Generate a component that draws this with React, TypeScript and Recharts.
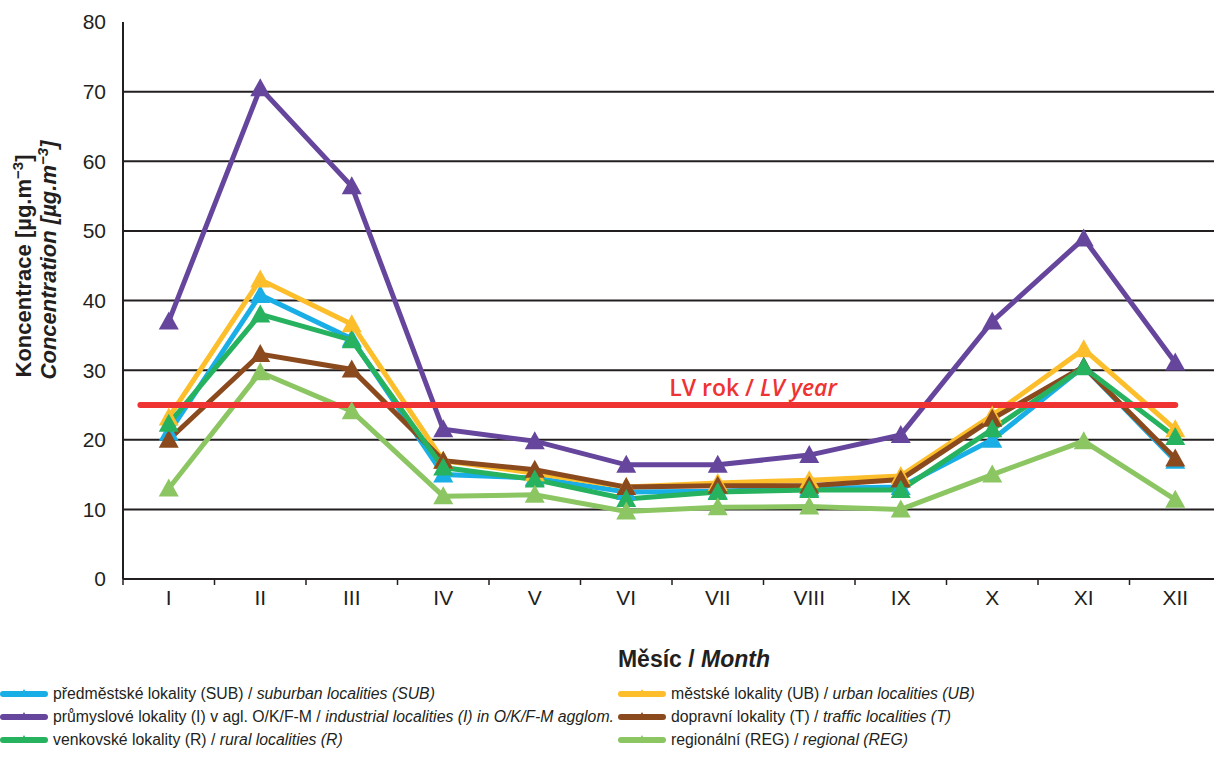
import { LineChart, Line, XAxis, YAxis, ReferenceLine } from "recharts";

const MONTHS = ["I", "II", "III", "IV", "V", "VI", "VII", "VIII", "IX", "X", "XI", "XII"];

const SUB = [21.0, 40.8, 34.5, 15.0, 14.5, 12.5, 12.6, 13.0, 13.2, 20.0, 30.5, 17.0];
const UB = [23.2, 43.0, 36.6, 17.0, 15.2, 13.2, 13.8, 14.2, 14.8, 23.5, 33.0, 21.5];
const IND = [37.0, 70.5, 56.4, 21.5, 19.8, 16.4, 16.4, 17.8, 20.7, 37.0, 48.9, 31.1];
const TRAF = [20.0, 32.3, 30.1, 17.0, 15.7, 13.2, 13.4, 13.4, 14.3, 23.0, 30.5, 17.3];
const RUR = [22.3, 38.0, 34.3, 16.0, 14.3, 11.5, 12.5, 12.8, 12.8, 21.5, 30.4, 20.4];
const REG = [13.0, 29.7, 24.1, 11.9, 12.1, 9.7, 10.3, 10.4, 10.0, 15.0, 19.8, 11.4];

const LV = 25;
const Y_TICKS = [0, 10, 20, 30, 40, 50, 60, 70, 80];
const GRID_VALUES = [10, 20, 30, 40, 50, 60, 70];
const X_TICKS = [0, 1, 2, 3, 4, 5, 6, 7, 8, 9, 10, 11, 12];

const SERIES = [
  { key: "sub", values: SUB, color: "#19AEE5", cz: "předměstské lokality (SUB)", en: "suburban localities (SUB)" },
  { key: "ub", values: UB, color: "#FDBE2C", cz: "městské lokality (UB)", en: "urban localities (UB)" },
  { key: "ind", values: IND, color: "#66469D", cz: "průmyslové lokality (I) v agl. O/K/F-M", en: "industrial localities (I) in O/K/F-M agglom." },
  { key: "traf", values: TRAF, color: "#8B4A1E", cz: "dopravní lokality (T)", en: "traffic localities (T)" },
  { key: "rur", values: RUR, color: "#27B25F", cz: "venkovské lokality (R)", en: "rural localities (R)" },
  { key: "reg", values: REG, color: "#8CC663", cz: "regionální (REG)", en: "regional (REG)" },
];

// left column: sub, ind, rur ; right column: ub, traf, reg
const LEGEND_LEFT = ["sub", "ind", "rur"];
const LEGEND_RIGHT = ["ub", "traf", "reg"];

const data = MONTHS.map((m, i) => {
  const row: Record<string, any> = { month: m, x: i + 0.5 };
  SERIES.forEach((s) => {
    row[s.key] = s.values[i];
  });
  return row;
});

const CHART_W = 1221;
const CHART_H = 758;
const PLOT_LEFT = 123;
const BW = (CHART_W - PLOT_LEFT) / 12;
const FONT = "'Liberation Sans', Arial, sans-serif";
const INK = "#231F20";

const Triangle = (color: string) => (props: any) => {
  const { cx, cy, index } = props;
  if (cx == null || cy == null) return null;
  return (
    <path
      key={`tri-${index}`}
      d={`M${cx},${cy - 10} L${cx + 10},${cy + 8} L${cx - 10},${cy + 8} Z`}
      fill={color}
    />
  );
};

const MonthTick = (props: any) => {
  const { x, y, payload } = props;
  const label = MONTHS[payload.value];
  if (!label) return null;
  return (
    <text x={x + BW / 2} y={y + 18} textAnchor="middle" fontFamily={FONT} fontSize={21} fill={INK}>
      {label}
    </text>
  );
};

const YTitle = () => (
  <g>
    <text transform="translate(31,266) rotate(-90)" textAnchor="middle" fontFamily={FONT} fontSize={22} fontWeight="bold" fill={INK}>
      Koncentrace [µg.m<tspan dy={-8} fontSize={15}>−3</tspan>
      <tspan dy={8}>]</tspan>
    </text>
    <text transform="translate(56,260) rotate(-90)" textAnchor="middle" fontFamily={FONT} fontSize={22} fontWeight="bold" fontStyle="italic" fill={INK}>
      Concentration [µg.m<tspan dy={-8} fontSize={15}>−3</tspan>
      <tspan dy={8}>]</tspan>
    </text>
  </g>
);

const XTitle = () => (
  <text x={694} y={667} textAnchor="middle" fontFamily={FONT} fontSize={23} fontWeight="bold" fill={INK}>
    Měsíc / <tspan fontStyle="italic">Month</tspan>
  </text>
);

const LvLabel = () => (
  <text x={753} y={396} textAnchor="middle" fontFamily="'Open Sans', sans-serif" fontSize={23} fontWeight={600} fill="#EE3332">
    LV rok / <tspan fontStyle="italic">LV year</tspan>
  </text>
);

const LegendItem = ({ s, left, top }: { s: (typeof SERIES)[number]; left: number; top: number }) => (
  <div style={{ position: "absolute", left, top, height: 20, display: "flex", alignItems: "center", whiteSpace: "nowrap" }}>
    <svg width={48} height={14} style={{ marginRight: 5 }}>
      <line x1={3} y1={7} x2={45} y2={7} stroke={s.color} strokeWidth={6} strokeLinecap="round" />
      <path d="M24,2 L28,9 L20,9 Z" fill={s.color} />
    </svg>
    <span style={{ fontFamily: FONT, fontSize: 15.8, color: INK }}>
      {s.cz} / <i>{s.en}</i>
    </span>
  </div>
);

export default function App() {
  const byKey = (k: string) => SERIES.find((s) => s.key === k)!;
  return (
    <div style={{ position: "absolute", left: 0, top: 0, width: 1214, height: 758, overflow: "hidden", background: "#fff" }}>
      <LineChart width={CHART_W} height={CHART_H} data={data} margin={{ top: 22, right: 0, bottom: 139, left: 0 }}>
        <XAxis
          dataKey="x"
          type="number"
          domain={[0, 12]}
          ticks={X_TICKS}
          interval={0}
          height={40}
          axisLine={{ stroke: INK, strokeWidth: 2 }}
          tickLine={{ stroke: INK, strokeWidth: 1.5 }}
          tickSize={6}
          tick={<MonthTick />}
        />
        <YAxis
          type="number"
          domain={[0, 80]}
          ticks={Y_TICKS}
          interval={0}
          width={PLOT_LEFT}
          axisLine={{ stroke: INK, strokeWidth: 2 }}
          tickLine={false}
          tickSize={0}
          tickMargin={17}
          tick={{ fontFamily: FONT, fontSize: 21, fill: INK }}
        />
        {GRID_VALUES.map((v) => (
          <ReferenceLine key={`g-${v}`} y={v} stroke={INK} strokeWidth={2} />
        ))}
        {SERIES.map((s) => (
          <Line
            key={s.key}
            dataKey={s.key}
            stroke={s.color}
            strokeWidth={5}
            dot={Triangle(s.color)}
            activeDot={false}
            isAnimationActive={false}
          />
        ))}
        <ReferenceLine
          segment={[
            { x: 0.19, y: LV },
            { x: 11.5, y: LV },
          ]}
          stroke="#EE3332"
          strokeWidth={6}
          strokeLinecap="round"
        />
      </LineChart>
      <svg width={1214} height={758} style={{ position: "absolute", left: 0, top: 0, pointerEvents: "none" }}>
        <YTitle />
        <XTitle />
        <LvLabel />
      </svg>
      {LEGEND_LEFT.map((k, i) => (
        <LegendItem key={k} s={byKey(k)} left={0} top={684 + i * 23} />
      ))}
      {LEGEND_RIGHT.map((k, i) => (
        <LegendItem key={k} s={byKey(k)} left={618} top={684 + i * 23} />
      ))}
    </div>
  );
}
